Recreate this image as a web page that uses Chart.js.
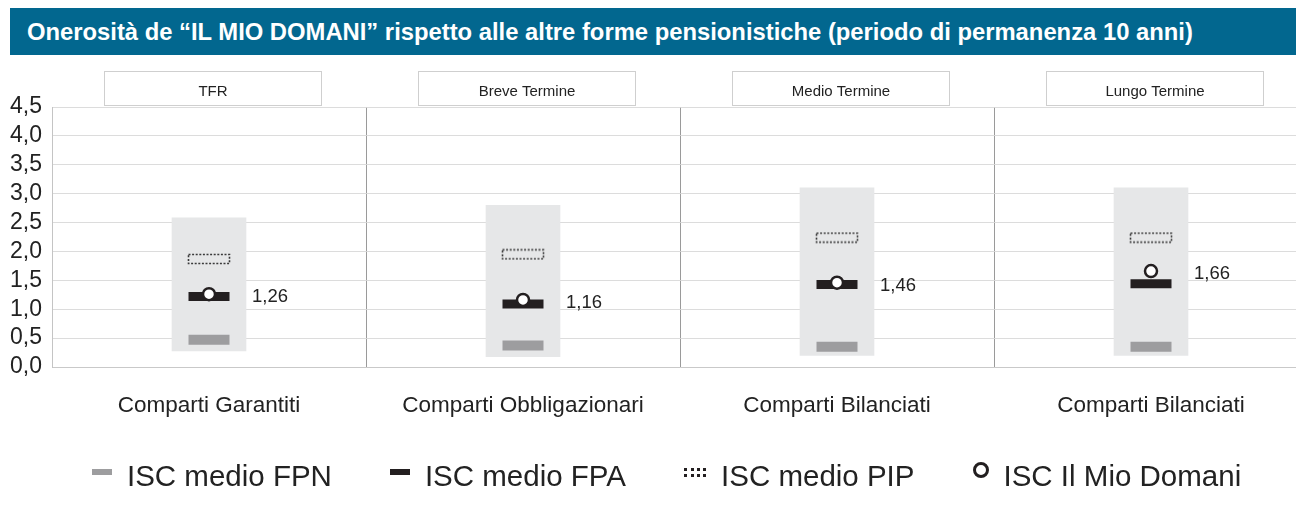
<!DOCTYPE html>
<html>
<head>
<meta charset="utf-8">
<script src="https://cdn.jsdelivr.net/npm/chart.js@4.4.1/dist/chart.umd.min.js"></script>
<style>
  html, body { margin: 0; padding: 0; background: #fff; overflow: hidden; width: 1296px; height: 516px; }
  body { position: relative; font-family: "Liberation Sans", Arial, sans-serif; }
  #title {
    position: absolute; left: 10px; top: 8px; width: 1286px; height: 47px;
    background: #02678f; color: #fff; font-weight: bold; font-size: 23.8px;
    line-height: 47px; padding-left: 17px; box-sizing: border-box; white-space: nowrap;
  }
  #chart-wrapper { position: absolute; left: 0; top: 0; width: 1308px; height: 516px; }
  #legend {
    position: absolute; left: 92px; top: 459px; display: flex; align-items: center;
    font-size: 29.5px; color: #222; white-space: nowrap;
  }
  .item { display: flex; align-items: center; margin-right: 58px; }
  .icon { margin-right: 15px; }
  .fpn { width: 20px; height: 6px; background: #9d9d9f; margin-top: -8px; }
  .fpa { width: 20px; height: 6px; background: #231f20; margin-top: -8px; }
  .pip { width: 22px; height: 3px; border-top: 3px dotted #231f20; border-bottom: 3px dotted #231f20; margin-top: -8px; }
  .mio { width: 10px; height: 10px; border: 3px solid #231f20; border-radius: 50%; margin-top: -12px; }
</style>
</head>
<body>
<div id="title">Onerosità de “IL MIO DOMANI” rispetto alle altre forme pensionistiche (periodo di permanenza 10 anni)</div>
<div id="chart-wrapper"><canvas id="iscChart" width="1308" height="516"></canvas></div>
<div id="legend">
  <div class="item"><span class="icon fpn"></span>ISC medio FPN</div>
  <div class="item"><span class="icon fpa"></span>ISC medio FPA</div>
  <div class="item"><span class="icon pip"></span>ISC medio PIP</div>
  <div class="item"><span class="icon mio"></span>ISC Il Mio Domani</div>
</div>
<script>
// Data
const categories = ['Comparti Garantiti', 'Comparti Obbligazionari', 'Comparti Bilanciati', 'Comparti Bilanciati'];
const headers = ['TFR', 'Breve Termine', 'Medio Termine', 'Lungo Termine'];
const rangeLow = [0.28, 0.18, 0.2, 0.2];
const rangeHigh = [2.58, 2.8, 3.1, 3.1];
const iscFPN = [0.47, 0.37, 0.35, 0.35];
const iscFPA = [1.22, 1.09, 1.43, 1.44];
const iscPIP = [1.87, 1.95, 2.24, 2.24];
const iscMioDomani = [1.26, 1.16, 1.46, 1.66];
const yTicks = [0, 0.5, 1, 1.5, 2, 2.5, 3, 3.5, 4, 4.5];

const font = '"Liberation Sans", Arial, sans-serif';
const fmt = (v, d) => v.toFixed(d).replace('.', ',');

// dotted box used as point style for PIP
const pipBox = document.createElement('canvas');
pipBox.width = 44;
pipBox.height = 12;
(function () {
    const c = pipBox.getContext('2d');
    c.strokeStyle = '#3a3a3a';
    c.lineWidth = 1.6;
    c.setLineDash([2, 1.6]);
    c.strokeRect(1.5, 1.5, 41, 9);
})();

// header boxes above each group
const headerPlugin = {
    id: 'headerBoxes',
    afterDraw(chart) {
        const ctx = chart.ctx;
        const x = chart.scales.x;
        ctx.save();
        headers.forEach((h, i) => {
            const cx = x.getPixelForValue(i) + 4;
            ctx.fillStyle = '#fff';
            ctx.fillRect(cx - 109, 71, 218, 35);
            ctx.strokeStyle = '#cfcfcf';
            ctx.lineWidth = 1;
            ctx.strokeRect(cx - 108.5, 71.5, 217, 34);
            ctx.fillStyle = '#222';
            ctx.font = '15px ' + font;
            ctx.textAlign = 'center';
            ctx.textBaseline = 'middle';
            ctx.fillText(h, cx, 92);
        });
        ctx.restore();
    }
};

// value labels next to the circles
const valuePlugin = {
    id: 'valueLabels',
    afterDatasetsDraw(chart) {
        const ctx = chart.ctx;
        const meta = chart.getDatasetMeta(0);
        ctx.save();
        ctx.fillStyle = '#222';
        ctx.font = '18.5px ' + font;
        ctx.textAlign = 'left';
        ctx.textBaseline = 'middle';
        meta.data.forEach((pt, i) => {
            ctx.fillText(fmt(iscMioDomani[i], 2), pt.x + 43, pt.y + 3);
        });
        ctx.restore();
    }
};

const datasets = [
    {
        type: 'line', label: 'ISC Il Mio Domani', data: iscMioDomani, showLine: false,
        pointStyle: 'circle', pointRadius: 6, pointBackgroundColor: '#fff',
        pointBorderColor: '#231f20', pointBorderWidth: 2.5, order: 0
    },
    {
        type: 'line', label: 'ISC medio PIP', data: iscPIP, showLine: false,
        pointStyle: pipBox, order: 1
    },
    {
        type: 'line', label: 'ISC medio FPA', data: iscFPA, showLine: false,
        pointStyle: 'line', pointRadius: 20.5, pointBorderColor: '#231f20', pointBorderWidth: 9, order: 2
    },
    {
        type: 'line', label: 'ISC medio FPN', data: iscFPN, showLine: false,
        pointStyle: 'line', pointRadius: 20.5, pointBorderColor: '#9d9d9f', pointBorderWidth: 10, order: 3
    },
    {
        type: 'bar', label: 'range', data: rangeLow.map((v, i) => [v, rangeHigh[i]]),
        backgroundColor: '#e6e7e8', barThickness: 74, order: 4
    }
];

const ctx = document.getElementById('iscChart').getContext('2d');
const iscChart = new Chart(ctx, {
    type: 'bar',
    data: { labels: categories, datasets: datasets },
    options: {
        responsive: false,
        maintainAspectRatio: false,
        animation: false,
        events: [],
        layout: { autoPadding: false, padding: { top: 107, bottom: 89, left: 0, right: 0 } },
        plugins: { legend: { display: false }, tooltip: { enabled: false } },
        scales: {
            x: {
                offset: true,
                grid: {
                    offset: true, drawTicks: false,
                    color: (c) => c.index === 0 ? '#c9c9c9' : '#9a9a9a'
                },
                border: { color: '#c9c9c9' },
                ticks: { color: '#222', font: { family: font, size: 22.5 }, padding: 25 },
                afterFit: (s) => { s.height = 60; }
            },
            y: {
                min: 0, max: 4.5,
                afterBuildTicks: (s) => { s.ticks = yTicks.map(v => ({ value: v })); },
                grid: { color: '#dcdcdc', drawTicks: false },
                border: { color: '#c4c4c4' },
                ticks: {
                    color: '#222', font: { family: font, size: 23 }, padding: 10, autoSkip: false,
                    callback: (v) => fmt(v, 1)
                },
                afterFit: (s) => { s.width = 52; }
            }
        }
    },
    plugins: [headerPlugin, valuePlugin]
});
</script>
</body>
</html>
